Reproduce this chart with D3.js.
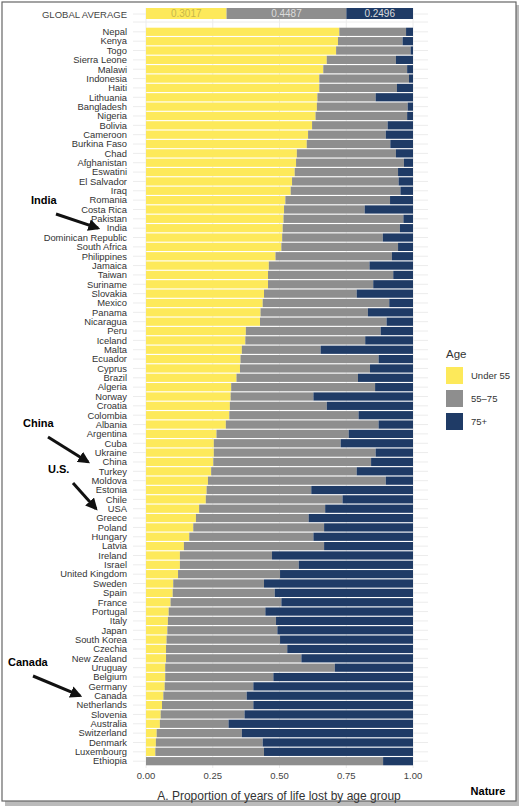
<!DOCTYPE html>
<html><head><meta charset="utf-8">
<script src="https://cdn.jsdelivr.net/npm/d3@7"></script>
<style>body{margin:0;background:#fff}svg{font-family:"Liberation Sans",Arial,sans-serif}</style>
</head><body><svg id="c" width="524" height="812"></svg>
<script>
const countries=["Nepal","Kenya","Togo","Sierra Leone","Malawi","Indonesia","Haiti","Lithuania","Bangladesh","Nigeria","Bolivia","Cameroon","Burkina Faso","Chad","Afghanistan","Eswatini","El Salvador","Iraq","Romania","Costa Rica","Pakistan","India","Dominican Republic","South Africa","Philippines","Jamaica","Taiwan","Suriname","Slovakia","Mexico","Panama","Nicaragua","Peru","Iceland","Malta","Ecuador","Cyprus","Brazil","Algeria","Norway","Croatia","Colombia","Albania","Argentina","Cuba","Ukraine","China","Turkey","Moldova","Estonia","Chile","USA","Greece","Poland","Hungary","Latvia","Ireland","Israel","United Kingdom","Sweden","Spain","France","Portugal","Italy","Japan","South Korea","Czechia","New Zealand","Uruguay","Belgium","Germany","Canada","Netherlands","Slovenia","Australia","Switzerland","Denmark","Luxembourg","Ethiopia"];
const under55=[0.724,0.719,0.712,0.677,0.664,0.649,0.649,0.642,0.640,0.635,0.622,0.607,0.602,0.565,0.562,0.557,0.547,0.542,0.522,0.517,0.515,0.512,0.510,0.507,0.485,0.460,0.457,0.457,0.442,0.437,0.429,0.427,0.374,0.372,0.359,0.354,0.352,0.339,0.319,0.317,0.314,0.312,0.299,0.264,0.254,0.254,0.252,0.244,0.232,0.227,0.224,0.199,0.187,0.177,0.162,0.142,0.127,0.127,0.120,0.102,0.100,0.092,0.085,0.082,0.080,0.077,0.075,0.075,0.072,0.072,0.070,0.065,0.060,0.055,0.052,0.040,0.037,0.035,0.0];
// cumulative share (under 55 + 55-75)
const under75=[0.974,0.961,0.991,0.936,0.978,0.985,0.940,0.860,0.980,0.978,0.905,0.898,0.915,0.936,0.966,0.944,0.946,0.953,0.914,0.819,0.964,0.951,0.887,0.944,0.921,0.837,0.926,0.851,0.789,0.911,0.831,0.901,0.879,0.821,0.654,0.871,0.839,0.794,0.858,0.627,0.677,0.796,0.871,0.759,0.729,0.860,0.843,0.789,0.898,0.619,0.736,0.671,0.609,0.667,0.627,0.667,0.472,0.572,0.502,0.442,0.482,0.507,0.447,0.487,0.492,0.502,0.529,0.582,0.707,0.477,0.402,0.377,0.402,0.369,0.309,0.359,0.437,0.442,0.888];
const globalAvg=[0.3017,0.4487,0.2496];
const ageGroups=["Under 55","55–75","75+"];
const xTicks=[0,0.25,0.5,0.75,1];
const colors=["#fde95a","#8e8e8e","#1f3b66"];

const svg=d3.select("#c");
svg.append("rect").attr("x",5).attr("y",5).attr("width",514).attr("height",801).attr("fill","#bbb");
svg.append("rect").attr("x",2).attr("y",2).attr("width",514).attr("height",799).attr("fill","#fff").attr("stroke","#666").attr("stroke-width",1.2);

const x=d3.scaleLinear().domain([0,1]).range([146,413]);
const y=d3.scaleBand().domain(countries).range([27.7,765.3]).paddingInner(0.12);
const g=svg.append("g");
xTicks.forEach(t=>g.append("line").attr("x1",x(t)).attr("x2",x(t)).attr("y1",8).attr("y2",768).attr("stroke","#ececec"));
countries.forEach(c=>g.append("line").attr("x1",133).attr("x2",428).attr("y1",y(c)+y.bandwidth()/2).attr("y2",y(c)+y.bandwidth()/2).attr("stroke","#ececec"));
g.append("line").attr("x1",133).attr("x2",428).attr("y1",14).attr("y2",14).attr("stroke","#ececec");
g.append("line").attr("x1",133).attr("x2",428).attr("y1",22).attr("y2",22).attr("stroke","#ececec");

const rows=countries.map((c,i)=>[[0,under55[i]],[under55[i],under75[i]],[under75[i],1]]);
countries.forEach((c,i)=>{
  rows[i].forEach((s,k)=>{
    if(s[1]-s[0]<=0)return;
    svg.append("rect").attr("x",x(s[0])).attr("y",y(c)).attr("width",x(s[1])-x(s[0])).attr("height",y.bandwidth()).attr("fill",colors[k]);
  });
});
let acc=0;
globalAvg.forEach((v,k)=>{
  svg.append("rect").attr("x",x(acc)).attr("y",8).attr("width",x(acc+v)-x(acc)).attr("height",11).attr("fill",colors[k]);
  svg.append("text").attr("x",x(acc+v/2)).attr("y",17).attr("text-anchor","middle").attr("font-size",10).attr("fill",k==0?"#c8b84a":"#dcdcdc").text(v.toFixed(4));
  acc+=v;
});
svg.append("text").attr("x",127).attr("y",18).attr("text-anchor","end").attr("font-size",9.5).attr("fill","#444").text("GLOBAL AVERAGE");

countries.forEach(c=>svg.append("text").attr("x",127).attr("y",y(c)+y.bandwidth()/2+3.3).attr("text-anchor","end").attr("font-size",9.4).attr("fill","#333").text(c));
xTicks.forEach(t=>svg.append("text").attr("x",x(t)).attr("y",779).attr("text-anchor","middle").attr("font-size",9.5).attr("fill","#444").text(t.toFixed(2)));
svg.append("text").attr("x",279).attr("y",800).attr("text-anchor","middle").attr("font-size",12).attr("fill","#333").text("A.  Proportion of years of life lost by age group");
svg.append("text").attr("x",488).attr("y",795).attr("text-anchor","middle").attr("font-size",11).attr("font-weight","bold").text("Nature");

svg.append("text").attr("x",446).attr("y",358).attr("font-size",11.5).attr("fill","#333").text("Age");
ageGroups.forEach((a,i)=>{
  svg.append("rect").attr("x",446).attr("y",367+i*23).attr("width",17).attr("height",17).attr("fill",colors[i]);
  svg.append("text").attr("x",471).attr("y",379+i*23).attr("font-size",9.5).attr("fill","#333").text(a);
});

const defs=svg.append("defs");
defs.append("marker").attr("id","ah").attr("viewBox","0 0 10 10").attr("refX",8).attr("refY",5).attr("markerWidth",4).attr("markerHeight",4).attr("orient","auto").append("path").attr("d","M0,0L10,5L0,10z").attr("fill","#111");
const notes=[["India",31,204,"India",98],["China",23,427,"China",88],["U.S.",48,473,"USA",96],["Canada",8,666,"Canada",80]];
notes.forEach(n=>{
  svg.append("text").attr("x",n[1]).attr("y",n[2]).attr("font-size",11).attr("font-weight","bold").attr("fill","#000").text(n[0]);
  const ty=y(n[3])+y.bandwidth()/2;
  svg.append("line").attr("x1",n[1]+25).attr("y1",n[2]+10).attr("x2",n[4]).attr("y2",ty).attr("stroke","#111").attr("stroke-width",3).attr("marker-end","url(#ah)");
});
</script></body></html>
